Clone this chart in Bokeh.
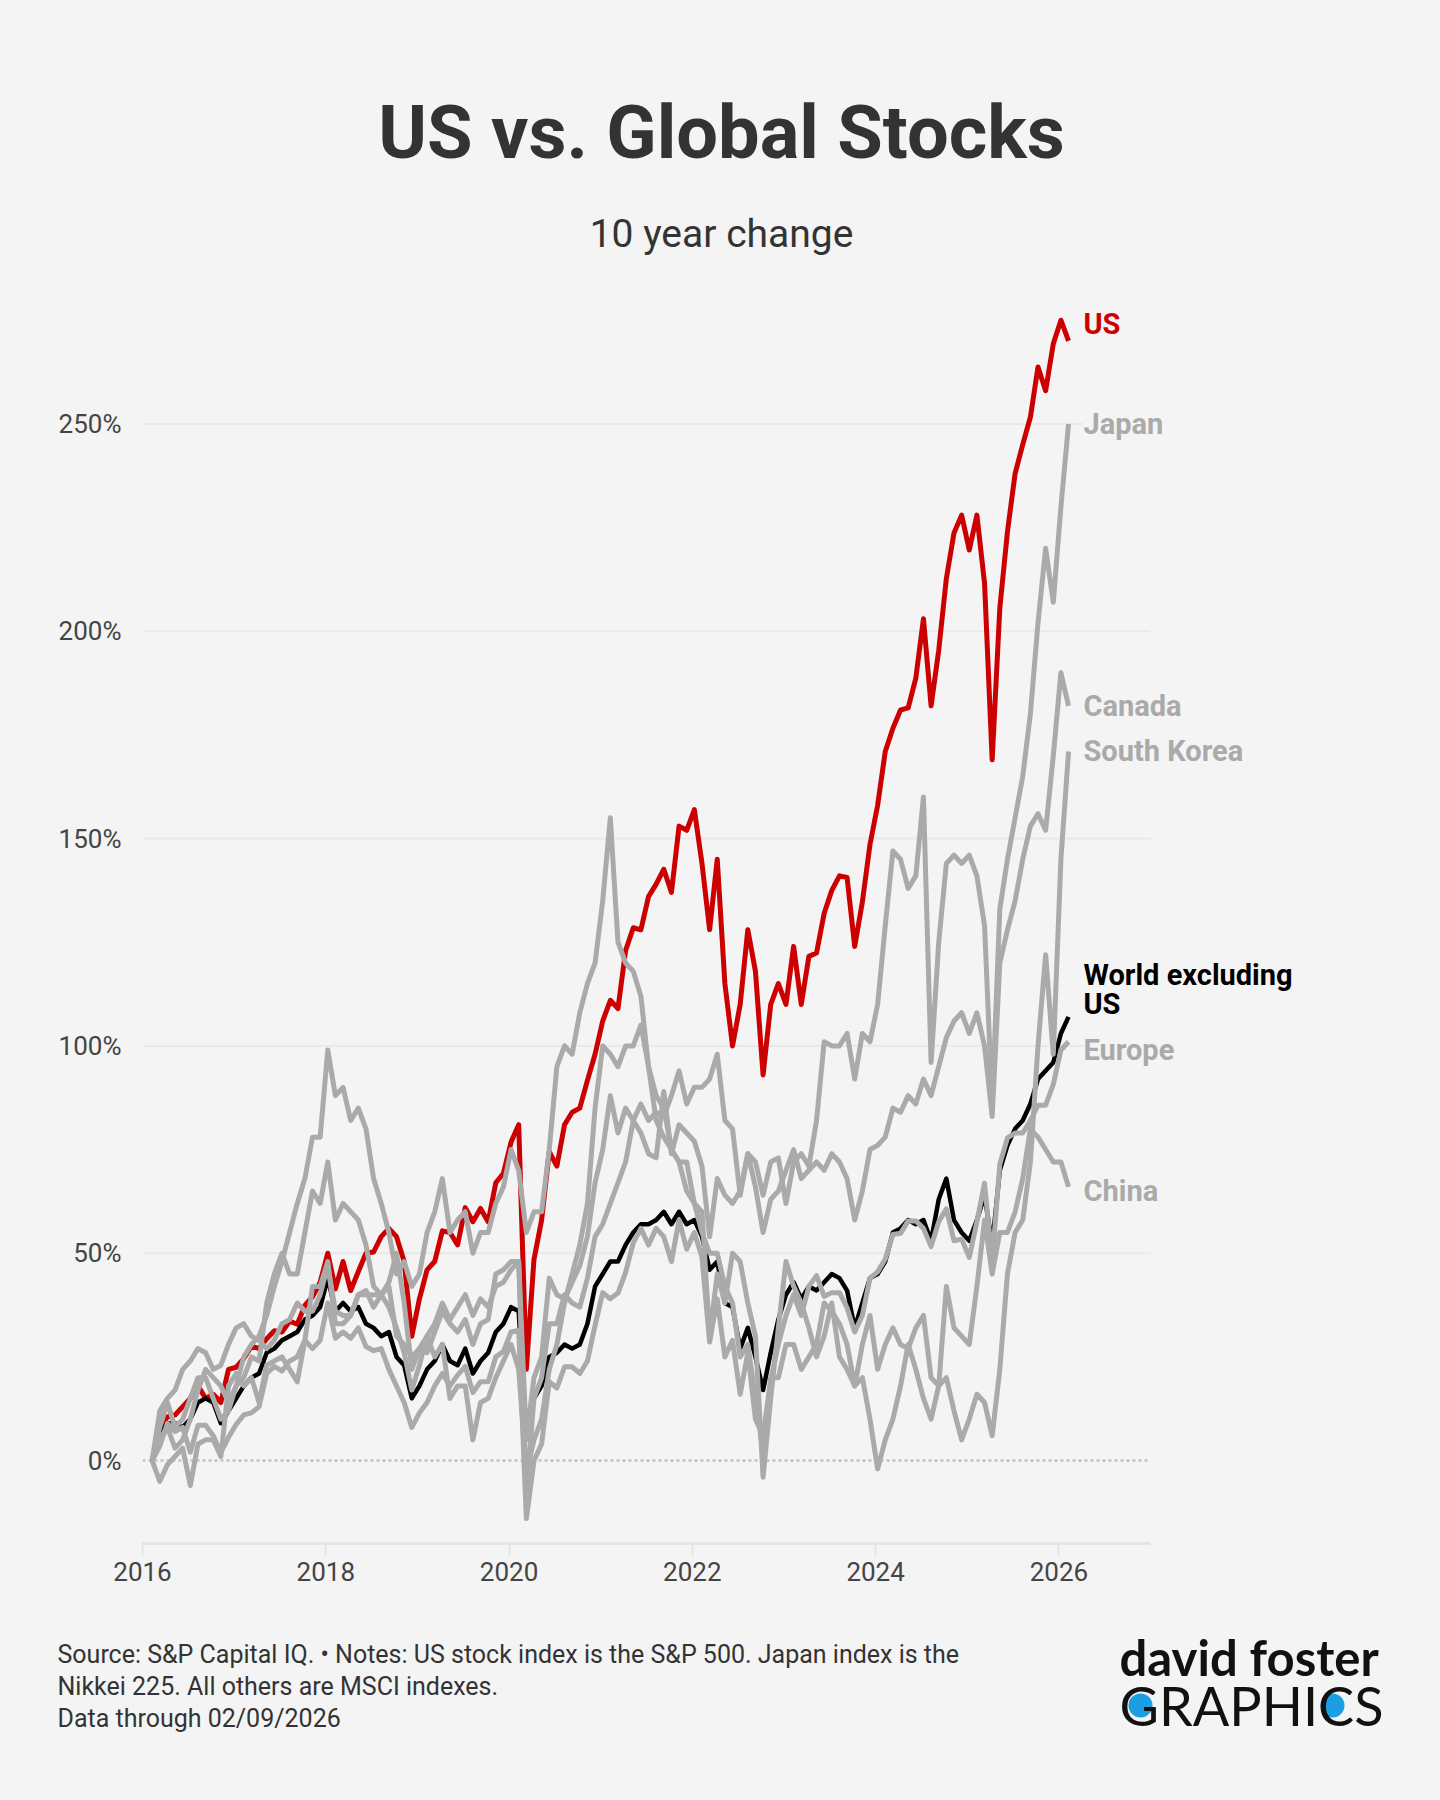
from bokeh.plotting import figure
from bokeh.layouts import column
from bokeh.models import Range1d, FixedTicker, Label
from bokeh.embed import file_html
from bokeh.resources import INLINE

# ---------------- data (percent change since 02/09/2016, monthly on the 9th) ----------------
START_YEAR, START_MONTH = 2016, 2
N_MONTHS = 121  # Feb 2016 .. Feb 2026

US = [0, 7.5, 10.5, 11, 13, 15, 18, 15, 16, 14, 22,
      22.5, 24.6, 27.6, 27, 29.4, 31.3, 31, 33.6, 32.9, 37.4, 39.5, 43,
      50, 41.4, 48, 41, 45.6, 50, 50.3, 54, 56, 54, 48, 30,
      39, 46, 48, 55.4, 55, 52, 61, 57.6, 60.8, 57.6, 67, 69.3,
      76.8, 81, 22, 48.5, 58, 74.5, 71, 81, 84, 85, 91.7, 98,
      106, 111, 109, 123, 128.5, 128, 136, 139, 142.6, 137, 153, 152,
      157, 144, 128, 145, 115, 100, 110, 128, 118, 93, 110, 115,
      110, 124, 110, 121.6, 122.4, 132, 137.5, 141, 140.6, 124, 134.7, 148.6,
      158, 171, 176.6, 181, 181.5, 188.7, 203, 182, 195.4, 212.7, 223.7, 228,
      219.6, 228, 211.6, 169, 205.6, 224, 238, 245, 251.6, 263.7, 258, 269.3,
      275, 270]

WORLD_EX_US = [0, 7, 9, 9, 8, 10, 14, 15, 14, 9, 12,
               15, 18, 20, 21, 26, 27, 29, 30, 31, 34, 35, 37,
               44, 36, 38, 36, 37, 33, 32, 30, 31, 25, 23, 15,
               18, 22, 24, 28, 24, 23, 27, 21, 24, 26, 31, 33,
               37, 36, 6, 15, 18, 25, 26, 28, 27, 28, 33, 42,
               45, 48, 48, 52, 55, 57, 57, 58, 60, 57, 60, 57,
               58, 54, 46, 48, 38, 37, 27, 32, 25, 17, 26, 34,
               40, 43, 39, 42, 41, 43, 45, 44, 41, 32, 38, 44,
               45, 48, 55, 56, 58, 57, 58, 53, 63, 68, 58, 55,
               53, 58, 64, 52, 70, 76, 80, 82, 86, 92, 94, 96,
               103, 107]

JAPAN = [0, -5, -1, 1, 3, -6, 4, 5, 5, 1, 18,
         21, 18, 20, 14, 23, 24, 25, 22, 19, 29, 42, 42,
         48, 33, 33, 35, 40, 41, 37, 40, 43, 50, 38, 22,
         27, 26, 31, 36, 33, 31, 34, 28, 33, 34, 45, 46,
         48, 48, 5, 20, 25, 44, 40, 39, 43, 47, 54, 67,
         75, 88, 79, 85, 82, 79, 74, 73, 89, 74, 81, 79,
         77, 71, 54, 68, 64, 62, 65, 74, 72, 64, 72, 73,
         62, 72, 74, 71, 82, 101, 100, 100, 103, 92, 103, 101,
         110, 129, 147, 145, 138, 141, 160, 96, 125, 144, 146, 144,
         146, 141, 129, 86, 133, 145, 155, 165, 180, 202, 220, 207,
         230, 250]

CANADA = [0, 12, 15, 17, 22, 24, 27, 26, 22, 23, 28,
          32, 33, 30, 29, 27, 29, 33, 34, 38, 36, 36, 40,
          47, 36, 35, 35, 40, 40, 40, 40, 37, 32, 26, 17,
          23, 30, 33, 38, 34, 37, 40, 35, 39, 37, 42, 43,
          46, 48, -8, 15, 20, 33, 33, 40, 38, 37, 44, 54,
          57, 62, 67, 72, 82, 86, 82, 84, 83, 88, 94, 86,
          90, 90, 92, 98, 82, 80, 64, 74, 66, 55, 63, 65,
          70, 75, 68, 70, 72, 70, 74, 72, 68, 58, 65, 75,
          76, 78, 85, 84, 88, 86, 92, 88, 95, 102, 106, 108,
          103, 108, 100, 83, 120, 128, 135, 145, 153, 156, 152, 170,
          190, 182]

SOUTH_KOREA = [0, 8, 14, 8, 10, 15, 20, 20, 15, 10, 12,
               18, 20, 25, 24, 38, 45, 50, 45, 45, 55, 65, 62,
               72, 58, 62, 60, 58, 52, 42, 40, 42, 30, 28, 25,
               27, 30, 25, 28, 15, 18, 18, 5, 14, 15, 20, 24,
               28, 22, -3, 5, 10, 22, 28, 38, 45, 52, 62, 85,
               100, 98, 95, 100, 100, 105, 95, 88, 85, 75, 72, 72,
               62, 55, 50, 50, 42, 38, 25, 28, 15, 2, 20, 20,
               28, 28, 22, 25, 28, 38, 36, 33, 28, 18, 28, 35,
               22, 28, 32, 28, 27, 32, 35, 20, 18, 20, 12, 5,
               10, 16, 14, 6, 22, 45, 55, 58, 72, 100, 122, 98,
               145, 171]

EUROPE = [0, 3.5, 9, 7, 8, 2, 8.5, 8.5, 6, 2, 5.6,
          8.7, 11, 11.5, 13, 21, 22.7, 21.6, 24, 25, 29, 27, 29,
          38, 29.5, 31, 29.5, 32, 27.5, 26.5, 27, 22, 18, 14, 8,
          11.5, 14, 18, 21, 18, 20.6, 22.7, 16.4, 19, 19, 25, 26.3,
          31, 31.4, -14, 0, 4, 19, 17.5, 22.6, 22.6, 21, 24, 32.6,
          40.5, 39, 40.4, 45.4, 52.5, 56, 52, 56, 54, 48, 58, 51,
          55, 49, 28.6, 39, 25, 29, 16, 26, 10, 6, 19.5, 28,
          35, 40, 35, 42, 44.6, 39.6, 40.5, 40.5, 36.8, 31, 35, 44,
          45.5, 48.6, 54.5, 54.8, 57.8, 57.8, 56, 51.6, 57.6, 60.7, 53, 53.4,
          49, 57.6, 66.9, 48, 71.5, 77.8, 79, 79, 82, 85.7, 85.7, 90.7,
          99, 101]

CHINA = [0, 5, 8, 3, 5, 10, 17, 22, 20, 18, 14,
         18, 25, 28, 30, 35, 42, 48, 55, 62, 68, 78, 78,
         99, 88, 90, 82, 85, 80, 68, 62, 55, 45, 48, 42,
         45, 55, 60, 68, 55, 58, 60, 50, 55, 55, 62, 66,
         75, 70, 55, 60, 60, 75, 95, 100, 98, 108, 115, 120,
         135, 155, 125, 120, 118, 112, 95, 82, 78, 75, 72, 65,
         62, 60, 30, 45, 38, 50, 48, 38, 30, -4, 15, 32,
         48, 42, 38, 32, 25, 30, 38, 25, 22, 18, 20, 10,
         -2, 5, 10, 18, 28, 22, 15, 10, 18, 42, 32, 30,
         28, 42, 58, 45, 55, 55, 60, 68, 80, 78, 75, 72,
         72, 66]

GRAY_SERIES = {"Japan": JAPAN, "Canada": CANADA, "South Korea": SOUTH_KOREA,
               "Europe": EUROPE, "China": CHINA}

LABEL_TEXT = ["US", "Japan", "Canada", "South Korea", "World excluding", "US", "Europe", "China"]
LABEL_Y = [274, 250, 182, 171, 117, 110, 99, 65]
LABEL_COLOR = ["#cc0000", "#aaaaaa", "#aaaaaa", "#aaaaaa", "#000000", "#000000", "#aaaaaa", "#aaaaaa"]

X_TICKS = [2016, 2018, 2020, 2022, 2024, 2026]
X_AXIS_END = 2027
Y_TICKS = [0, 50, 100, 150, 200, 250]

TITLE = "US vs. Global Stocks"
SUBTITLE = "10 year change"
NOTES = ["Source: S&P Capital IQ. \u2022 Notes: US stock index is the S&P 500. Japan index is the",
         "Nikkei 225. All others are MSCI indexes.",
         "Data through 02/09/2026"]

# ---------------- dates ----------------
xs = []
for i in range(N_MONTHS):
    m0 = START_MONTH - 1 + i
    yr = START_YEAR + m0 // 12
    mo = m0 % 12
    xs.append(yr + mo / 12 + 8 / 365)

for s in [US, WORLD_EX_US, JAPAN, CANADA, SOUTH_KOREA, EUROPE, CHINA]:
    assert len(s) == N_MONTHS, len(s)

BG = "#f4f4f4"
W = 1440
H_HEAD, H_MAIN, H_FOOT = 278, 1322, 200
LEFT = 142
PX_PER_YEAR = 91.64


def blank(h):
    f = figure(width=W, height=h, x_range=Range1d(0, W), y_range=Range1d(0, h),
               output_backend="svg", toolbar_location=None,
               min_border=0, min_border_left=0, min_border_right=0,
               min_border_top=0, min_border_bottom=0,
               x_axis_type=None, y_axis_type=None, frame_align=False,
               background_fill_color=BG, border_fill_color=BG, outline_line_color=None)
    return f


# ---------------- header ----------------
head = blank(H_HEAD)
head.add_layout(Label(x=721, y=H_HEAD - 131.5, text=TITLE, text_align="center", text_baseline="middle",
                      text_font="Roboto", text_font_style="bold", text_font_size="74px",
                      text_color="#333333"))
head.add_layout(Label(x=721, y=H_HEAD - 233, text=SUBTITLE, text_align="center", text_baseline="middle",
                      text_font="Roboto", text_font_size="39px", text_color="#333333"))

# ---------------- main chart ----------------
X_END = 2016 + (W - LEFT) / PX_PER_YEAR
p = figure(width=W, height=H_MAIN, x_range=Range1d(2016, X_END), y_range=Range1d(-20, 280),
           output_backend="svg", toolbar_location=None, frame_align=False,
           min_border_left=LEFT, min_border_right=0, min_border_top=21, min_border_bottom=57,
           background_fill_color=BG, border_fill_color=BG, outline_line_color=None)

p.xaxis.ticker = FixedTicker(ticks=X_TICKS)
p.xaxis.bounds = (2016, X_AXIS_END)
p.xaxis.major_label_overrides = {t: str(t) for t in X_TICKS}
p.xaxis.axis_line_color = "#e4e4e4"
p.xaxis.axis_line_width = 3
p.xaxis.major_tick_line_color = "#e4e4e4"
p.xaxis.major_tick_line_width = 2
p.xaxis.major_tick_out = 12
p.xaxis.major_tick_in = 0
p.xaxis.minor_tick_line_color = None
p.xaxis.major_label_standoff = 6
p.xaxis.major_label_text_font = "Roboto"
p.xaxis.major_label_text_font_size = "26px"
p.xaxis.major_label_text_color = "#444444"

p.yaxis.ticker = FixedTicker(ticks=Y_TICKS)
p.yaxis.major_label_overrides = {t: f"{t}%" for t in Y_TICKS}
p.yaxis.axis_line_color = None
p.yaxis.major_tick_line_color = None
p.yaxis.minor_tick_line_color = None
p.yaxis.major_tick_out = 0
p.yaxis.major_label_standoff = 21
p.yaxis.major_label_text_font = "Roboto"
p.yaxis.major_label_text_font_size = "26px"
p.yaxis.major_label_text_color = "#444444"

p.xgrid.grid_line_color = None
p.ygrid.grid_line_color = None

# horizontal guides limited to the axis extent
grid_y = Y_TICKS[1:]
p.segment(x0=[2016] * len(grid_y), y0=grid_y, x1=[X_AXIS_END] * len(grid_y), y1=grid_y,
          line_color="#e9e9e9", line_width=2)
p.segment(x0=[2016], y0=[0], x1=[X_AXIS_END], y1=[0],
          line_color="#c2c2c2", line_width=2.5, line_dash="3 3")

p.line(xs, US, line_color="#cc0000", line_width=5, line_join="round")
p.line(xs, WORLD_EX_US, line_color="#000000", line_width=4.5, line_join="round")
for name, vals in GRAY_SERIES.items():
    p.line(xs, vals, line_color="#aaaaaa", line_width=5, line_join="round")

LX = 2016 + (1083 - LEFT) / PX_PER_YEAR
for t, yv, c in zip(LABEL_TEXT, LABEL_Y, LABEL_COLOR):
    p.add_layout(Label(x=LX, y=yv, text=t, text_font="Roboto", text_font_style="bold",
                       text_font_size="29px", text_color=c, text_baseline="middle",
                       background_fill_color=BG))

# ---------------- footer ----------------
foot = blank(H_FOOT)
for i, line in enumerate(NOTES):
    foot.add_layout(Label(x=57, y=H_FOOT - (54 + 32 * i), text=line, text_baseline="middle",
                          text_font="Roboto", text_font_size="25px", text_color="#333333"))
foot.scatter(x=[1140, 1332], y=[H_FOOT - 105, H_FOOT - 105], size=24, marker="circle",
             fill_color="#1a9fe3", line_color=None)
foot.add_layout(Label(x=1119, y=H_FOOT - 56, text="david foster", text_baseline="middle",
                      text_font="Lato", text_font_style="bold", text_font_size="49px",
                      text_color="#111111"))
foot.add_layout(Label(x=1119, y=H_FOOT - 105, text="GRAPHICS", text_baseline="middle",
                      text_font="Lato", text_font_size="54px", text_color="#111111"))

layout = column(head, p, foot, spacing=0, styles={"background-color": BG})
open("out.html", "w").write(file_html(layout, INLINE))
